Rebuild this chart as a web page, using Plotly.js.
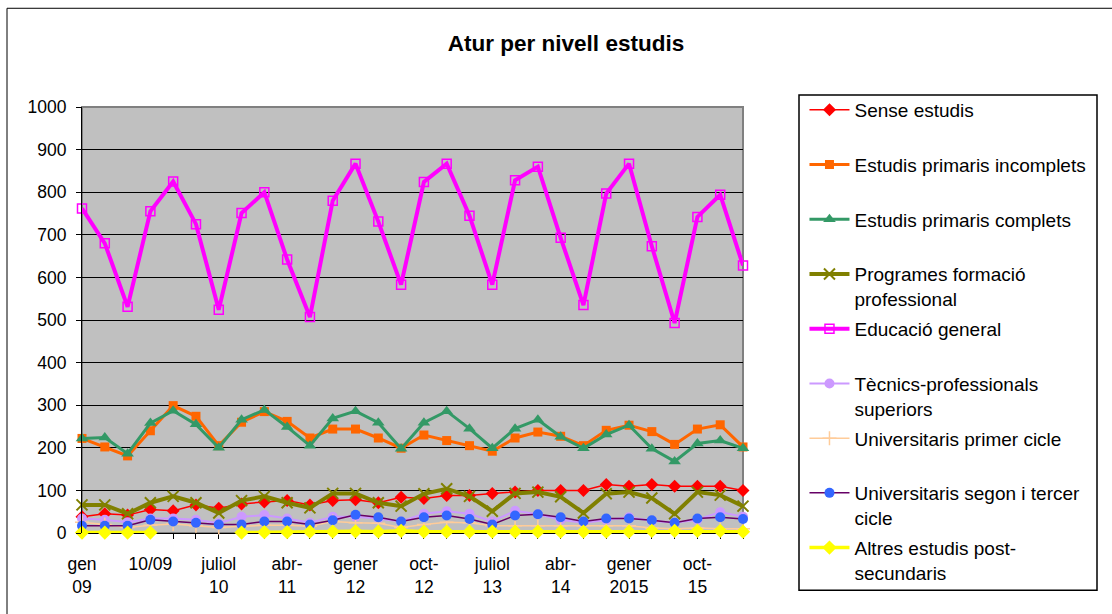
<!DOCTYPE html>
<html>
<head>
<meta charset="utf-8">
<script src="https://cdn.plot.ly/plotly-3.0.1.min.js"></script>
<style>html,body{margin:0;padding:0;background:#fff;}#chart{width:1112px;height:614px;}</style>
</head>
<body>
<div id="chart"></div>
<script>
const categories = ["gen 09","abr 09","jul 09","oct 09","gen 10","abr 10","jul 10","oct 10","gen 11","abr 11","jul 11","oct 11","gen 12","abr 12","jul 12","oct 12","gen 13","abr 13","jul 13","oct 13","gen 14","abr 14","jul 14","oct 14","gen 15","abr 15","jul 15","oct 15","gen 16","abr 16"];
const tickLabels = ["gen<br>09","","","10/09","","","juliol<br>10","","","abr-<br>11","","","gener<br>12","","","oct-<br>12","","","juliol<br>13","","","abr-<br>14","","","gener<br>2015","","","oct-<br>15","",""];

const senseEstudis = [38,45,42,55,52,66,58,68,73,76,66,76,78,71,84,81,88,88,93,96,100,100,100,114,110,114,110,110,110,100];
const primarisIncomplets = [222,202,181,240,299,274,205,260,285,262,223,244,244,223,199,230,217,205,192,223,237,227,205,241,253,238,208,244,254,202];
const primarisComplets = [222,224,186,258,287,255,200,266,289,249,205,269,286,259,198,259,286,245,199,245,266,226,199,231,253,198,168,210,217,199];
const programesFP = [66,66,45,71,86,71,47,76,86,71,59,93,93,71,63,92,104,86,51,93,96,85,47,92,96,82,45,96,89,63];
const educacioGeneral = [762,680,531,755,825,725,524,751,800,642,507,780,867,731,583,824,867,745,583,828,860,693,535,797,867,673,493,742,794,628];
const tecnicsSuperiors = [34,31,25,34,34,31,23,38,42,34,24,38,38,34,27,45,51,45,27,52,44,31,24,31,37,29,24,31,49,38];
const univPrimerCicle = [25,20,13,18,21,17,13,16,18,18,16,27,24,23,13,20,25,24,17,17,17,17,17,17,17,12,10,12,10,10];
const univSegonTercer = [17,17,17,31,27,24,20,20,27,27,20,30,43,37,27,37,41,33,20,41,44,37,27,34,34,30,24,34,37,33];
const altresPostSec = [1,1,1,1,null,null,null,1,2,2,3,3,4,3,5,3,3,3,3,3,3,3,3,3,3,5,5,5,5,3];

const NB = "<br>\u00a0";
const series = [
  {name:"Sense estudis"+NB, y:senseEstudis, lc:"#FF0000", lw:1.5, sym:"diamond", ms:10, mc:"#FF0000", lg:"legend"},
  {name:"Estudis primaris incomplets"+NB, y:primarisIncomplets, lc:"#FF6600", lw:3, sym:"square", ms:9, mc:"#FF6600", lg:"legend"},
  {name:"Estudis primaris complets"+NB, y:primarisComplets, lc:"#339966", lw:3, sym:"triangle-up", ms:11, mc:"#339966", lg:"legend"},
  {name:"Programes formació<br>professional", y:programesFP, lc:"#808000", lw:4, sym:"x-thin-open", ms:11, mc:"#808000", mlw:2, lg:"legend"},
  {name:"Educació general"+NB, y:educacioGeneral, lc:"#FF00FF", lw:4, sym:"square-open", ms:9, mc:"#FF00FF", mlw:1.5, lg:"legend"},
  {name:"Tècnics-professionals<br>superiors", y:tecnicsSuperiors, lc:"#CC99FF", lw:2, sym:"circle", ms:10, mc:"#CC99FF", lg:"legend2"},
  {name:"Universitaris primer cicle"+NB, y:univPrimerCicle, lc:"#FFCC99", lw:1.5, sym:"cross-thin-open", ms:10, mc:"#FFCC99", mlw:1.5, lg:"legend2"},
  {name:"Universitaris segon i tercer<br>cicle", y:univSegonTercer, lc:"#660066", lw:1.5, sym:"circle", ms:10, mc:"#3366FF", lg:"legend2"},
  {name:"Altres estudis post-<br>secundaris", y:altresPostSec, lc:"#FFFF00", lw:3.5, sym:"diamond", ms:11, mc:"#FFFF00", lg:"legend2"}
];

const traces = series.map((s,i)=>({
  type:"scatter", mode:"lines+markers", x:categories, y:s.y, name:s.name,
  legendgroup:"g"+i, legend:s.lg,
  line:{color:s.lc, width:s.lw},
  marker:{symbol:s.sym, size:s.ms, color:s.mc, line:{color:s.mc, width:s.mlw||0}},
  connectgaps:false, cliponaxis:false
}));

const font = "Arial, 'Liberation Sans', sans-serif";
const legendBase = {x:1.093, xanchor:"left", yanchor:"top", valign:"top", traceorder:"grouped", tracegroupgap:2.3,
    font:{family:font, size:19, color:"#000"}, bgcolor:"rgba(0,0,0,0)", borderwidth:0, itemwidth:40};
const layout = {
  width:1112, height:614,
  margin:{l:82, r:369, t:107, b:81},
  paper_bgcolor:"#FFFFFF", plot_bgcolor:"#C0C0C0",
  font:{family:font, color:"#000", size:17.5},
  title:{text:"<b>Atur per nivell estudis</b>", font:{family:font, size:22.5, color:"#000"}, xref:"container", yref:"container", x:0.509, xanchor:"center", y:1-43/614, yanchor:"middle"},
  xaxis:{type:"category", range:[0,29], tickvals:categories, ticktext:tickLabels, tickangle:0,
    showline:true, linecolor:"#000", linewidth:1, ticks:"outside", ticklen:5, tickcolor:"#000",
    showgrid:false, zeroline:false, tickfont:{size:17.5}, automargin:false, ticklabelstandoff:10, layer:"below traces"},
  yaxis:{range:[0,1000], dtick:100, showline:true, linecolor:"#000", linewidth:1, ticks:"outside", ticklen:5, tickcolor:"#000",
    gridcolor:"#000", gridwidth:1, zeroline:false, tickfont:{size:17.5}, automargin:false, ticklabelstandoff:6},
  showlegend:true,
  legend:Object.assign({}, legendBase, {y:1.0376}),
  legend2:Object.assign({}, legendBase, {y:(533-365)/425}),
  shapes:[
    {type:"rect", xref:"paper", yref:"paper", x0:0, x1:1, y0:0, y1:1, line:{color:"#808080", width:2}, layer:"below"},
    {type:"rect", xref:"paper", yref:"paper", x0:(799-82)/661, x1:(1097-82)/661, y0:(533-590)/425, y1:(533-96)/425, line:{color:"#000", width:1.5}},
    {type:"rect", xref:"paper", yref:"paper", x0:(7-82)/661, x1:(1120-82)/661, y0:(533-620)/425, y1:(533-9.5)/425, line:{color:"#000", width:1}}
  ]
};
Plotly.newPlot("chart", traces, layout, {displayModeBar:false, staticPlot:true});
</script>
</body>
</html>
